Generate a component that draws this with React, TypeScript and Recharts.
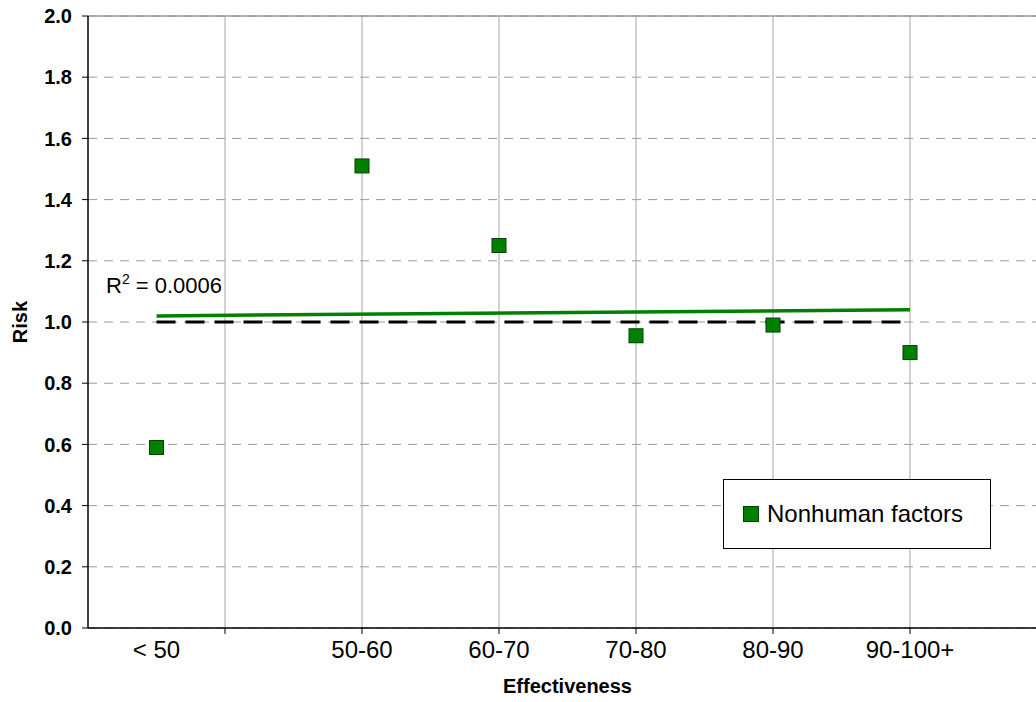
import React from 'react'
import {
  ComposedChart,
  Scatter,
  XAxis,
  YAxis,
  CartesianGrid,
  ReferenceLine,
} from 'recharts'

// effectiveness bands, placed on a numeric axis
const ranges = ['< 50', '50-60', '60-70', '70-80', '80-90', '90-100+']
const effectiveness = [45, 60, 70, 80, 90, 100]
const risk = [0.59, 1.51, 1.25, 0.955, 0.99, 0.9]

// linear trendline end points (Excel trendline) and the reference level
const trendX = [45, 100]
const trendY = [1.02, 1.04]
const baseY = [1.0, 1.0]

const gridX = [50, 60, 70, 80, 90, 100]
const yTicks = [0, 0.2, 0.4, 0.6, 0.8, 1.0, 1.2, 1.4, 1.6, 1.8, 2.0]

const points = effectiveness.map((x, i) => ({ x, y: risk[i], name: ranges[i] }))
const labelAt: Record<number, string> = {}
effectiveness.forEach((x, i) => (labelAt[x] = ranges[i]))
const xTicks = Array.from(new Set([...effectiveness, ...gridX])).sort((a, b) => a - b)

const GREEN = '#008000'
const FONT = '"Liberation Sans", Arial, sans-serif'

function RangeTick(props: any) {
  const { x, y, payload } = props
  const v = payload.value as number
  const label = labelAt[v]
  return (
    <g>
      {gridX.includes(v) && <line x1={x} x2={x} y1={y - 13} y2={y - 7} stroke="#000" />}
      {label && (
        <text x={x} y={y} dy="0.71em" textAnchor="middle" fontSize={24} fill="#000" fontFamily={FONT}>
          {label}
        </text>
      )}
    </g>
  )
}

function SquareDot(props: any) {
  const { cx, cy } = props
  if (cx == null || cy == null) return <g />
  return <rect x={cx - 7} y={cy - 7} width={14} height={14} fill={GREEN} stroke="#004000" strokeWidth={1} />
}

export default function App() {
  return (
    <div
      style={{
        position: 'absolute',
        left: 0,
        top: 0,
        width: 1036,
        height: 702,
        overflow: 'hidden',
        background: '#fff',
        fontFamily: FONT,
      }}
    >
      <ComposedChart width={1050} height={702} margin={{ top: 16, right: 3, bottom: 0, left: 0 }}>
        <CartesianGrid vertical={false} stroke="#9a9a9a" strokeDasharray="9 7" />
        {gridX.map((v) => (
          <ReferenceLine key={v} x={v} stroke="#a6a6a6" strokeWidth={1} />
        ))}
        <ReferenceLine y={2} stroke="#999" strokeWidth={1.5} />
        <XAxis
          dataKey="x"
          type="number"
          domain={[40, 110]}
          ticks={xTicks}
          interval={0}
          allowDataOverflow
          height={74}
          tickLine={false}
          tickMargin={7}
          tick={<RangeTick />}
          axisLine={{ stroke: '#000', strokeWidth: 1.5 }}
          label={{
            value: 'Effectiveness',
            position: 'insideBottom',
            offset: 9,
            fontSize: 20,
            fontWeight: 700,
            fill: '#000',
            fontFamily: FONT,
          }}
        />
        <YAxis
          dataKey="y"
          type="number"
          domain={[0, 2]}
          ticks={yTicks}
          interval={0}
          width={88}
          tickSize={6}
          tickMargin={10}
          tickFormatter={(v: number) => v.toFixed(1)}
          tick={{ fontSize: 20, fontWeight: 700, fill: '#000', fontFamily: FONT }}
          tickLine={{ stroke: '#000' }}
          axisLine={{ stroke: '#000', strokeWidth: 1.5 }}
          label={{
            value: 'Risk',
            angle: -90,
            position: 'center',
            dx: -24,
            fontSize: 20,
            fontWeight: 700,
            fill: '#000',
            fontFamily: FONT,
          }}
        />
        <ReferenceLine
          segment={[
            { x: trendX[0], y: baseY[0] },
            { x: trendX[1], y: baseY[1] },
          ]}
          stroke="#000"
          strokeWidth={3}
          strokeDasharray="19 10"
        />
        <ReferenceLine
          segment={[
            { x: trendX[0], y: trendY[0] },
            { x: trendX[1], y: trendY[1] },
          ]}
          stroke={GREEN}
          strokeWidth={3.5}
        />
        <Scatter name="Nonhuman factors" data={points} shape={<SquareDot />} isAnimationActive={false} />
      </ComposedChart>

      <div
        style={{
          position: 'absolute',
          left: 106,
          top: 275,
          height: 24,
          fontSize: 22,
          lineHeight: 1,
          color: '#000',
          whiteSpace: 'nowrap',
        }}
      >
        R<span style={{ fontSize: 14, position: 'relative', top: -9 }}>2</span> = 0.0006
      </div>

      <div
        style={{
          position: 'absolute',
          left: 723,
          top: 479,
          width: 268,
          height: 70,
          border: '1px solid #000',
          background: '#fff',
          display: 'flex',
          alignItems: 'center',
          paddingLeft: 19,
          boxSizing: 'border-box',
        }}
      >
        <span
          style={{
            display: 'inline-block',
            width: 14,
            height: 14,
            background: GREEN,
            border: '1px solid #004000',
            marginRight: 8,
          }}
        />
        <span style={{ fontSize: 24, color: '#000' }}>Nonhuman factors</span>
      </div>
    </div>
  )
}
